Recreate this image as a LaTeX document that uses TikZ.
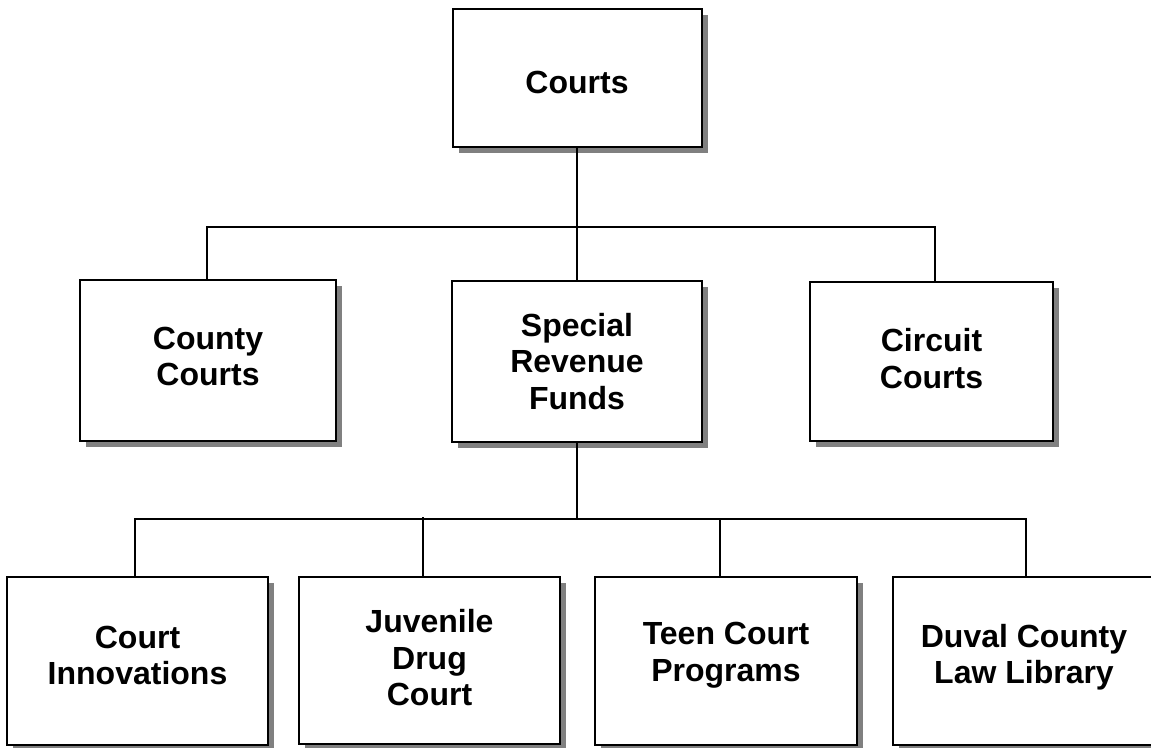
\documentclass[tikz,border=0pt]{standalone}
\usepackage{fontspec}
\setmainfont{Liberation Sans}
\usetikzlibrary{shadows}
\begin{document}
\begin{tikzpicture}[x=1pt,y=1pt,
  orgbox/.style={draw=black, line width=2pt, fill=white, inner sep=0pt,
    drop shadow={shadow xshift=6pt, shadow yshift=-6pt, fill=black!50, opacity=1}},
  boxtext/.style={align=center, inner sep=0pt, font=\bfseries\fontsize{32}{36.5}\selectfont},
  link/.style={draw=black, line width=1.6pt}]
\useasboundingbox (0,0) rectangle (1151,-747);
\clip (0,0) rectangle (1151,-747);
\node[orgbox, minimum width=249pt, minimum height=138pt,
  label={[boxtext,yshift=-4pt]center:Courts}] (courts) at (577,-78) {};
\node[orgbox, minimum width=256pt, minimum height=161pt,
  label={[boxtext,yshift=4pt]center:{County\\Courts}}] (county) at (208,-360.5) {};
\node[orgbox, minimum width=250pt, minimum height=161pt,
  label={[boxtext,yshift=0pt]center:{Special\\Revenue\\Funds}}] (special) at (577,-361.5) {};
\node[orgbox, minimum width=243pt, minimum height=159pt,
  label={[boxtext,yshift=3pt]center:{Circuit\\Courts}}] (circuit) at (931.5,-361.5) {};
\node[orgbox, minimum width=261pt, minimum height=168pt,
  label={[boxtext,yshift=5.5pt]center:{Court\\Innovations}}] (innov) at (137.5,-661) {};
\node[orgbox, minimum width=261pt, minimum height=167pt,
  label={[boxtext,yshift=2.5pt]center:{Juvenile\\Drug\\Court}}] (juv) at (429.5,-660.5) {};
\node[orgbox, minimum width=262pt, minimum height=168pt,
  label={[boxtext,yshift=6pt]center:{Teen Court\\Programs}}] (teen) at (726,-661) {};
\node[orgbox, minimum width=262pt, minimum height=168pt,
  label={[boxtext,yshift=4pt]center:{Duval County\\Law Library}}] (duval) at (1024,-661) {};
\coordinate (bus1) at (577,-227);
\coordinate (bus2) at (577,-519);
\draw[link] (courts.south) -- (bus1) -- (special.north);
\draw[link] ([xshift=-1pt]county.north) -- ([xshift=-1pt]county.north |- bus1) -- ([xshift=3.5pt]circuit.north |- bus1) -- ([xshift=3.5pt]circuit.north);
\draw[link] (special.south) -- (bus2);
\draw[link] ([xshift=-2.5pt]innov.north) -- ([xshift=-2.5pt]innov.north |- bus2) -- ([xshift=2pt]duval.north |- bus2) -- ([xshift=2pt]duval.north);
\draw[link] ([xshift=-6.5pt]juv.north) -- ([xshift=-6.5pt,yshift=2pt]juv.north |- bus2);
\draw[link] ([xshift=-6pt]teen.north) -- ([xshift=-6pt]teen.north |- bus2);
\end{tikzpicture}
\end{document}
